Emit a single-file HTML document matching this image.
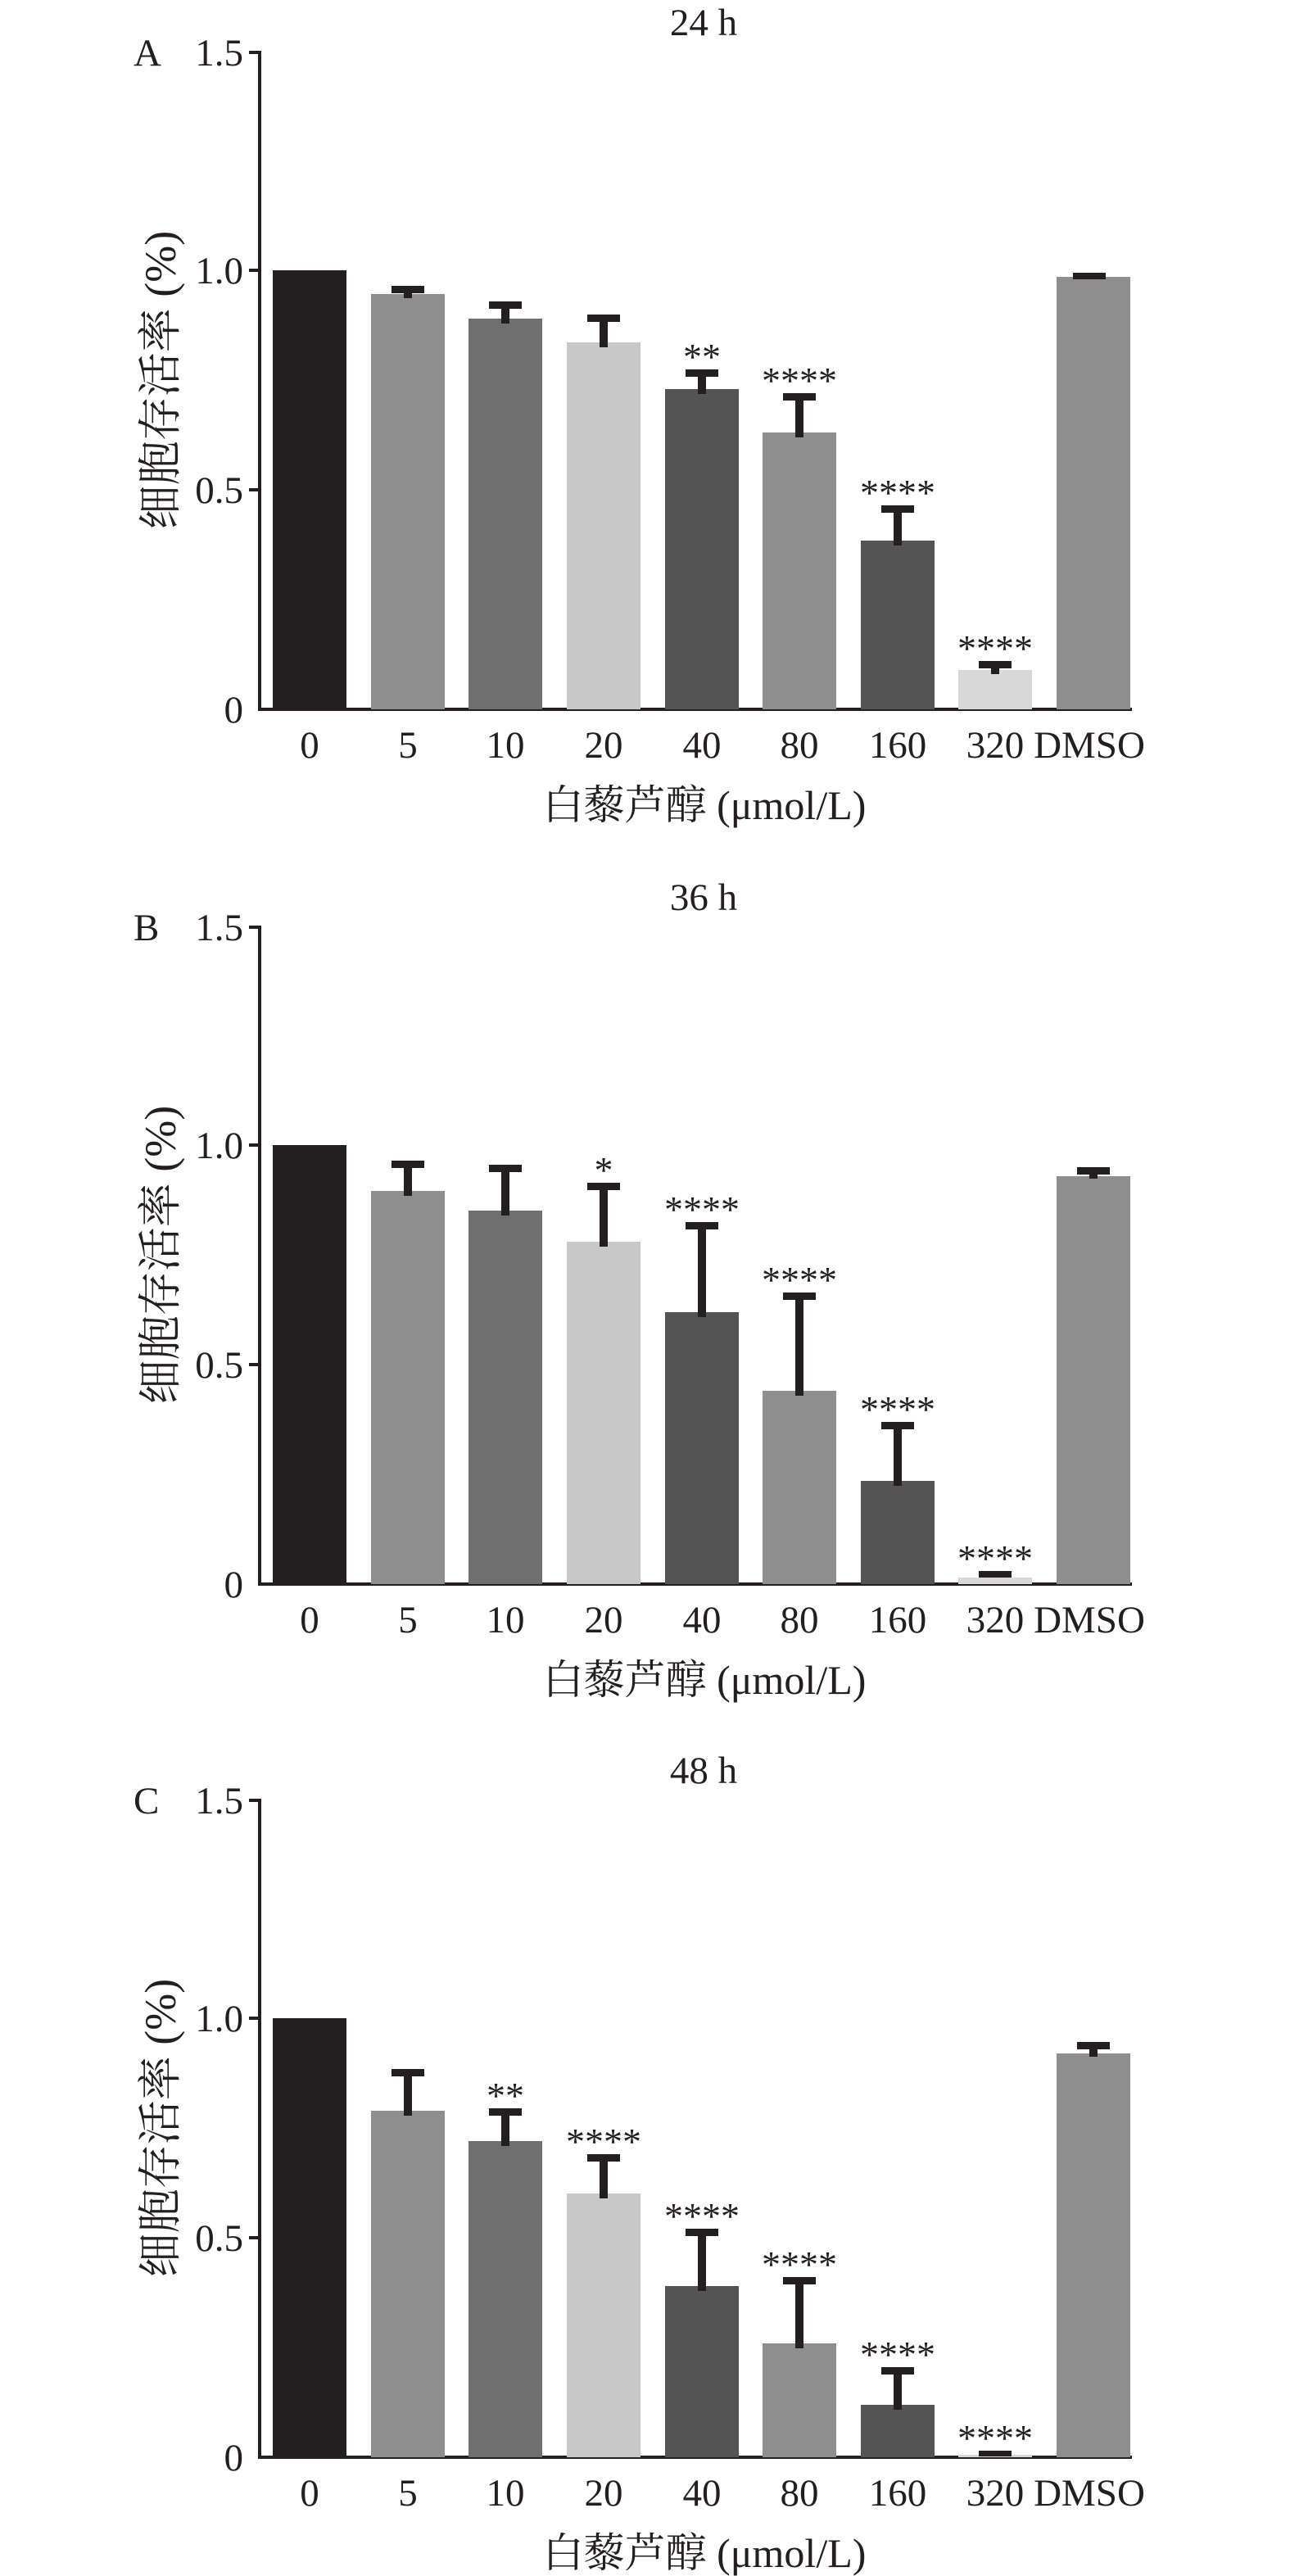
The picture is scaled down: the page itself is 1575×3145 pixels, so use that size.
<!DOCTYPE html>
<html><head><meta charset="utf-8"><style>
html,body{margin:0;padding:0;background:#fff}
svg{display:block}
text{font-family:"Liberation Serif","Noto Serif CJK SC",serif;fill:#231f20}
</style></head><body>
<svg width="1575" height="3145" viewBox="0 0 1575 3145" xmlns="http://www.w3.org/2000/svg">
<defs>
<g id="axes">
<line x1="317" y1="62" x2="317" y2="866" stroke="#231f20" stroke-width="4"/>
<line x1="315" y1="866" x2="1382" y2="866" stroke="#231f20" stroke-width="4"/>
<line x1="304" y1="64" x2="317" y2="64" stroke="#231f20" stroke-width="4"/>
<line x1="304" y1="330" x2="317" y2="330" stroke="#231f20" stroke-width="4"/>
<line x1="304" y1="598" x2="317" y2="598" stroke="#231f20" stroke-width="4"/>
<g font-size="47" text-anchor="end">
<text x="297" y="80">1.5</text><text x="297" y="346">1.0</text><text x="297" y="614">0.5</text><text x="297" y="882">0</text>
</g>
<g font-size="47" text-anchor="middle">
<text x="378" y="925">0</text><text x="498" y="925">5</text><text x="617" y="925">10</text><text x="737" y="925">20</text><text x="857" y="925">40</text><text x="976" y="925">80</text><text x="1096" y="925">160</text><text x="1215" y="925">320</text><text x="1330" y="925">DMSO</text>
<text x="860" y="1000" font-size="50">白藜芦醇 (μmol/L)</text>
<text transform="translate(214,464) rotate(-90)" font-size="54">细胞存活率 (%)</text>
</g>
</g>
</defs>

<!-- Panel A -->
<text x="859" y="43" font-size="47" text-anchor="middle">24 h</text>
<text x="163" y="80" font-size="47">A</text>
<use href="#axes"/>
<g>
<rect x="333" y="330" width="90" height="536" fill="#231f20"/>
<rect x="453" y="359" width="90" height="507" fill="#8e8e8e"/>
<rect x="572" y="389" width="90" height="477" fill="#6f6f6f"/>
<rect x="692" y="418" width="90" height="448" fill="#c8c8c8"/>
<rect x="812" y="475" width="90" height="391" fill="#545454"/>
<rect x="931" y="528" width="90" height="338" fill="#8e8e8e"/>
<rect x="1051" y="660" width="90" height="206" fill="#545454"/>
<rect x="1170" y="818" width="90" height="48" fill="#d8d8d8"/>
<rect x="1290" y="338" width="90" height="528" fill="#8e8e8e"/>
</g>
<g fill="#231f20">
<rect x="478" y="349" width="40" height="9"/><rect x="493" y="349" width="10" height="15"/>
<rect x="597" y="368" width="40" height="9"/><rect x="612" y="368" width="10" height="27"/>
<rect x="717" y="384" width="40" height="9"/><rect x="732" y="384" width="10" height="40"/>
<rect x="837" y="451" width="40" height="9"/><rect x="852" y="451" width="10" height="30"/>
<rect x="956" y="480" width="40" height="9"/><rect x="971" y="480" width="10" height="54"/>
<rect x="1076" y="617" width="40" height="9"/><rect x="1091" y="617" width="10" height="49"/>
<rect x="1195" y="807" width="40" height="9"/><rect x="1210" y="807" width="10" height="16"/>
<rect x="1310" y="333" width="40" height="8"/>
</g>
<g font-size="46" text-anchor="middle">
<text x="857" y="451">**</text><text x="976" y="480">****</text><text x="1096" y="617">****</text><text x="1215" y="807">****</text>
</g>

<!-- Panel B -->
<text x="859" y="1111" font-size="47" text-anchor="middle">36 h</text>
<text x="163" y="1148" font-size="47">B</text>
<use href="#axes" transform="translate(0,1068)"/>
<g>
<rect x="333" y="1398" width="90" height="536" fill="#231f20"/>
<rect x="453" y="1454" width="90" height="480" fill="#8e8e8e"/>
<rect x="572" y="1478" width="90" height="456" fill="#6f6f6f"/>
<rect x="692" y="1516" width="90" height="418" fill="#c8c8c8"/>
<rect x="812" y="1602" width="90" height="332" fill="#545454"/>
<rect x="931" y="1698" width="90" height="236" fill="#8e8e8e"/>
<rect x="1051" y="1808" width="90" height="126" fill="#545454"/>
<rect x="1170" y="1926" width="90" height="8" fill="#d8d8d8"/>
<rect x="1290" y="1436" width="90" height="498" fill="#8e8e8e"/>
</g>
<g fill="#231f20">
<rect x="478" y="1417" width="40" height="9"/><rect x="493" y="1417" width="10" height="43"/>
<rect x="597" y="1422" width="40" height="9"/><rect x="612" y="1422" width="10" height="62"/>
<rect x="717" y="1444" width="40" height="9"/><rect x="732" y="1444" width="10" height="78"/>
<rect x="837" y="1492" width="40" height="9"/><rect x="852" y="1492" width="10" height="116"/>
<rect x="956" y="1578" width="40" height="9"/><rect x="971" y="1578" width="10" height="126"/>
<rect x="1076" y="1736" width="40" height="9"/><rect x="1091" y="1736" width="10" height="78"/>
<rect x="1195" y="1918" width="40" height="8"/>
<rect x="1315" y="1425" width="40" height="9"/><rect x="1330" y="1425" width="10" height="14"/>
</g>
<g font-size="46" text-anchor="middle">
<text x="737" y="1444">*</text><text x="857" y="1492">****</text><text x="976" y="1578">****</text><text x="1096" y="1736">****</text><text x="1215" y="1918">****</text>
</g>

<!-- Panel C -->
<text x="859" y="2177" font-size="47" text-anchor="middle">48 h</text>
<text x="163" y="2214" font-size="47">C</text>
<use href="#axes" transform="translate(0,2134)"/>
<g>
<rect x="333" y="2464" width="90" height="536" fill="#231f20"/>
<rect x="453" y="2577" width="90" height="423" fill="#8e8e8e"/>
<rect x="572" y="2614" width="90" height="386" fill="#6f6f6f"/>
<rect x="692" y="2678" width="90" height="322" fill="#c8c8c8"/>
<rect x="812" y="2791" width="90" height="209" fill="#545454"/>
<rect x="931" y="2861" width="90" height="139" fill="#8e8e8e"/>
<rect x="1051" y="2936" width="90" height="64" fill="#545454"/>
<rect x="1170" y="2997" width="90" height="3" fill="#d8d8d8"/>
<rect x="1290" y="2507" width="90" height="493" fill="#8e8e8e"/>
</g>
<g fill="#231f20">
<rect x="478" y="2526" width="40" height="9"/><rect x="493" y="2526" width="10" height="57"/>
<rect x="597" y="2574" width="40" height="9"/><rect x="612" y="2574" width="10" height="46"/>
<rect x="717" y="2630" width="40" height="9"/><rect x="732" y="2630" width="10" height="54"/>
<rect x="837" y="2721" width="40" height="9"/><rect x="852" y="2721" width="10" height="76"/>
<rect x="956" y="2780" width="40" height="9"/><rect x="971" y="2780" width="10" height="87"/>
<rect x="1076" y="2890" width="40" height="9"/><rect x="1091" y="2890" width="10" height="52"/>
<rect x="1195" y="2992" width="40" height="7"/>
<rect x="1315" y="2493" width="40" height="9"/><rect x="1330" y="2493" width="10" height="18"/>
</g>
<g font-size="46" text-anchor="middle">
<text x="617" y="2574">**</text><text x="737" y="2630">****</text><text x="857" y="2721">****</text><text x="976" y="2780">****</text><text x="1096" y="2890">****</text><text x="1215" y="2992">****</text>
</g>
</svg>
</body></html>
